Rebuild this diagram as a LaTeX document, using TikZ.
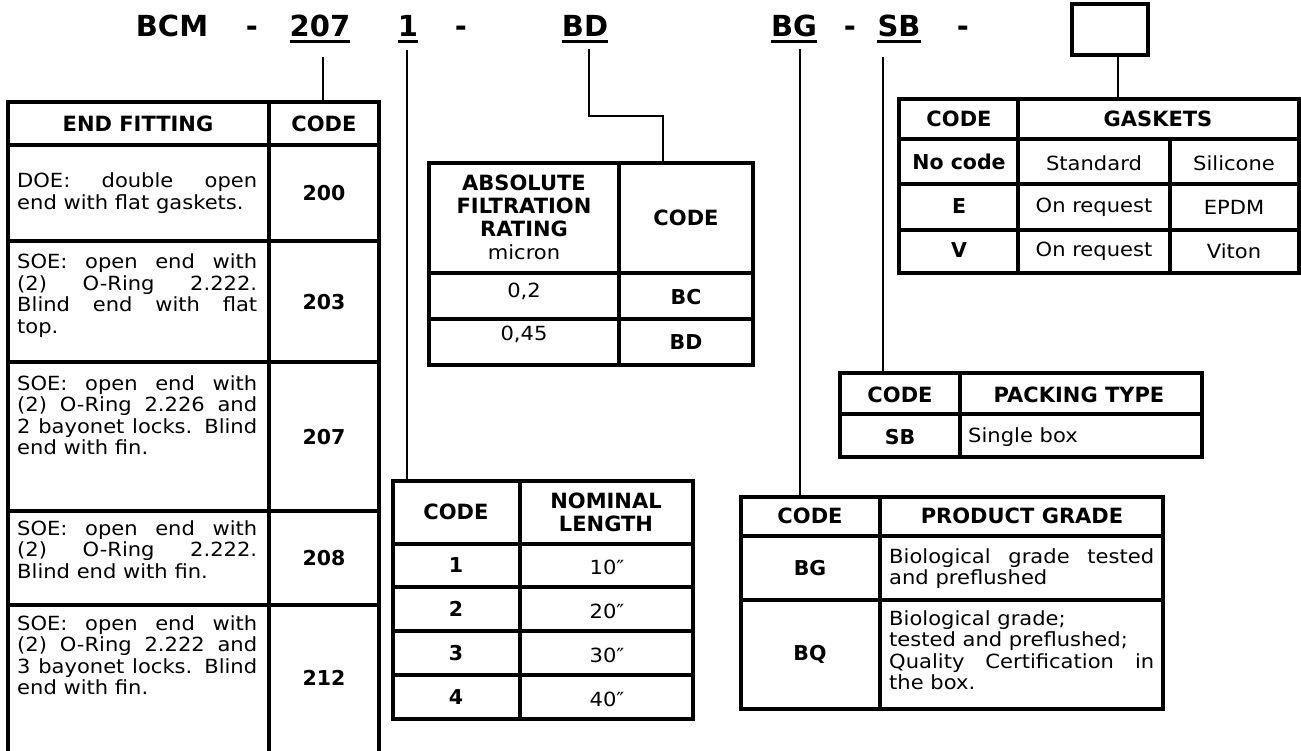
\documentclass[tikz,border=0pt]{standalone}
\usepackage{fontspec}
\setmainfont{DejaVu Sans}[UprightFeatures={FakeStretch=1.08}]
\newcommand{\jline}[2]{\makebox[#1][s]{#2}}
\tikzset{
  tbl/.style={line width=3.2pt, line cap=rect, line join=miter},
  conn/.style={line width=2.6pt},
  ul/.style={line width=3pt},
  ttl/.style={font=\fontsize{29}{32}\selectfont\bfseries, inner sep=0pt, anchor=base},
  hd/.style={font=\fontsize{21}{23}\selectfont\bfseries, inner sep=0pt, align=center},
  cd/.style={font=\fontsize{20.5}{23}\selectfont\bfseries, inner sep=0pt},
  bd/.style={font=\fontsize{19.5}{21.5}\selectfont, inner sep=0pt},
  par/.style={font=\fontsize{19.5}{21.5}\selectfont, inner sep=0pt, anchor=base west},
}
\begin{document}
\begin{tikzpicture}[x=1pt,y=-1pt]
\useasboundingbox (0,0) rectangle (1301,751);
\fill[white] (0,0) rectangle (1301,751);

% ---------- title row ----------
\node[ttl] (tBCM) at (172,37) {BCM};
\node[ttl] (td1) at (252,37) {-};
\node[ttl] (t207) at (320,37) {207};
\node[ttl] (t1) at (408,37) {1};
\node[ttl] (td2) at (461,37) {-};
\node[ttl] (tBD) at (585,37) {BD};
\node[ttl] (tBG) at (794,37) {BG};
\node[ttl] (td3) at (850,37) {-};
\node[ttl] (tSB) at (899,37) {SB};
\node[ttl] (td4) at (963,37) {-};
\node[draw, line width=3.3pt, minimum width=76pt, minimum height=51pt, inner sep=0pt] (tbox) at (1110,29.5) {};
\foreach \n in {t207,t1,tBD,tBG,tSB}
  \draw[ul] ([yshift=-4.5pt]\n.base west) -- ([yshift=-4.5pt]\n.base east);

% ---------- table anchor coordinates ----------
\coordinate (efTop) at (323,102);
\coordinate (nlTop) at (407,481);
\coordinate (afTop) at (663,163);
\coordinate (bdBend) at (589,116);
\coordinate (pgTop) at (800,497);
\coordinate (ptTop) at (883,373);
\coordinate (gkTop) at (1118,99);

% ---------- connectors ----------
\draw[conn] (efTop |- 0,57) -- (efTop);
\draw[conn] (nlTop |- 0,50) -- (nlTop);
\draw[conn] (bdBend |- 0,49) -- (bdBend) -| (afTop);
\draw[conn] (pgTop |- 0,49) -- (pgTop);
\draw[conn] (ptTop |- 0,57) -- (ptTop);
\draw[conn] (tbox.south -| gkTop) -- (gkTop);

% ---------- END FITTING table ----------
\draw[tbl] (8,770) -- (8,102) -- (379,102) -- (379,770);
\draw[tbl] (269,102) -- (269,770);
\foreach \yy in {145,241,362,511,605} \draw[tbl] (8,\yy) -- (379,\yy);
\node[hd] (efh1) at (138,124) {END FITTING};
\node[hd] (efh2) at (324,124) {CODE};
\node[par] (ef1) at (17,188) {\parbox[t]{240pt}{\jline{240pt}{DOE: double open}\\end with flat gaskets.}};
\node[par] (ef2) at (17,269) {\parbox[t]{240pt}{\jline{240pt}{SOE: open end with}\\\jline{240pt}{(2) O-Ring 2.222.}\\\jline{240pt}{Blind end with flat}\\top.}};
\node[par] (ef3) at (17,390) {\parbox[t]{240pt}{\jline{240pt}{SOE: open end with}\\\jline{240pt}{(2) O-Ring 2.226 and}\\\jline{240pt}{2 bayonet locks. Blind}\\end with fin.}};
\node[par] (ef4) at (17,535) {\parbox[t]{240pt}{\jline{240pt}{SOE: open end with}\\\jline{240pt}{(2) O-Ring 2.222.}\\Blind end with fin.}};
\node[par] (ef5) at (17,630) {\parbox[t]{240pt}{\jline{240pt}{SOE: open end with}\\\jline{240pt}{(2) O-Ring 2.222 and}\\\jline{240pt}{3 bayonet locks. Blind}\\end with fin.}};
\node[cd] (efc1) at (324,193) {200};
\node[cd] (efc2) at (324,302) {203};
\node[cd] (efc3) at (324,437) {207};
\node[cd] (efc4) at (324,558) {208};
\node[cd] (efc5) at (324,678) {212};

% ---------- ABSOLUTE FILTRATION table ----------
\draw[tbl] (429,163) rectangle (753,365);
\draw[tbl] (619,163) -- (619,365);
\draw[tbl] (429,273) -- (753,273);
\draw[tbl] (429,319) -- (753,319);
\node[hd] (afh1) at (524,217) {ABSOLUTE\\FILTRATION\\RATING\\{\mdseries\fontsize{19.5}{23}\selectfont micron}};
\node[hd] (afh2) at (686,218) {CODE};
\node[bd] (af1) at (524,291) {0,2};
\node[cd] (afc1) at (686,297) {BC};
\node[bd] (af2) at (524,334) {0,45};
\node[cd] (afc2) at (686,342) {BD};

% ---------- NOMINAL LENGTH table ----------
\draw[tbl] (393,481) rectangle (693,719);
\draw[tbl] (520,481) -- (520,719);
\foreach \yy in {544,587,631,675} \draw[tbl] (393,\yy) -- (693,\yy);
\node[hd] (nlh1) at (456,512) {CODE};
\node[hd] (nlh2) at (606,512) {NOMINAL\\LENGTH};
\node[cd] (nl1) at (456,565) {1};
\node[bd] (nv1) at (607,567) {10″};
\node[cd] (nl2) at (456,609) {2};
\node[bd] (nv2) at (607,611) {20″};
\node[cd] (nl3) at (456,653) {3};
\node[bd] (nv3) at (607,655) {30″};
\node[cd] (nl4) at (456,697) {4};
\node[bd] (nv4) at (607,699) {40″};

% ---------- GASKETS table ----------
\draw[tbl] (899,99) rectangle (1299,273);
\draw[tbl] (1018,99) -- (1018,273);
\draw[tbl] (1170,139) -- (1170,273);
\foreach \yy in {139,184,230} \draw[tbl] (899,\yy) -- (1299,\yy);
\node[hd] (gkh1) at (959,119) {CODE};
\node[hd] (gkh2) at (1158,119) {GASKETS};
\node[cd] (gk1) at (959,162) {No code};
\node[bd] (gs1) at (1094,163) {Standard};
\node[bd] (gm1) at (1234,163) {Silicone};
\node[cd] (gk2) at (959,206) {E};
\node[bd] (gs2) at (1094,207) {On request};
\node[bd] (gm2) at (1234,207) {EPDM};
\node[cd] (gk3) at (959,250) {V};
\node[bd] (gs3) at (1094,251) {On request};
\node[bd] (gm3) at (1234,251) {Viton};

% ---------- PACKING TYPE table ----------
\draw[tbl] (840,373) rectangle (1202,457);
\draw[tbl] (960,373) -- (960,457);
\draw[tbl] (840,414) -- (1202,414);
\node[hd] (pth1) at (900,395) {CODE};
\node[hd] (pth2) at (1079,395) {PACKING TYPE};
\node[cd] (pt1) at (900,437) {SB};
\node[bd, anchor=west] (pv1) at (968,437) {Single box};

% ---------- PRODUCT GRADE table ----------
\draw[tbl] (741,497) rectangle (1163,709);
\draw[tbl] (880,497) -- (880,709);
\draw[tbl] (741,536) -- (1163,536);
\draw[tbl] (741,600) -- (1163,600);
\node[hd] (pgh1) at (810,516) {CODE};
\node[hd] (pgh2) at (1022,516) {PRODUCT GRADE};
\node[cd] (pg1) at (810,568) {BG};
\node[cd] (pg2) at (810,654) {BQ};
\node[par] (pgt1) at (889,563) {\parbox[t]{265pt}{\jline{265pt}{Biological grade tested}\\and preflushed}};
\node[par] (pgt2) at (889,625) {\parbox[t]{265pt}{Biological grade;\\tested and preflushed;\\\jline{265pt}{Quality Certification in}\\the box.}};
\end{tikzpicture}
\end{document}
